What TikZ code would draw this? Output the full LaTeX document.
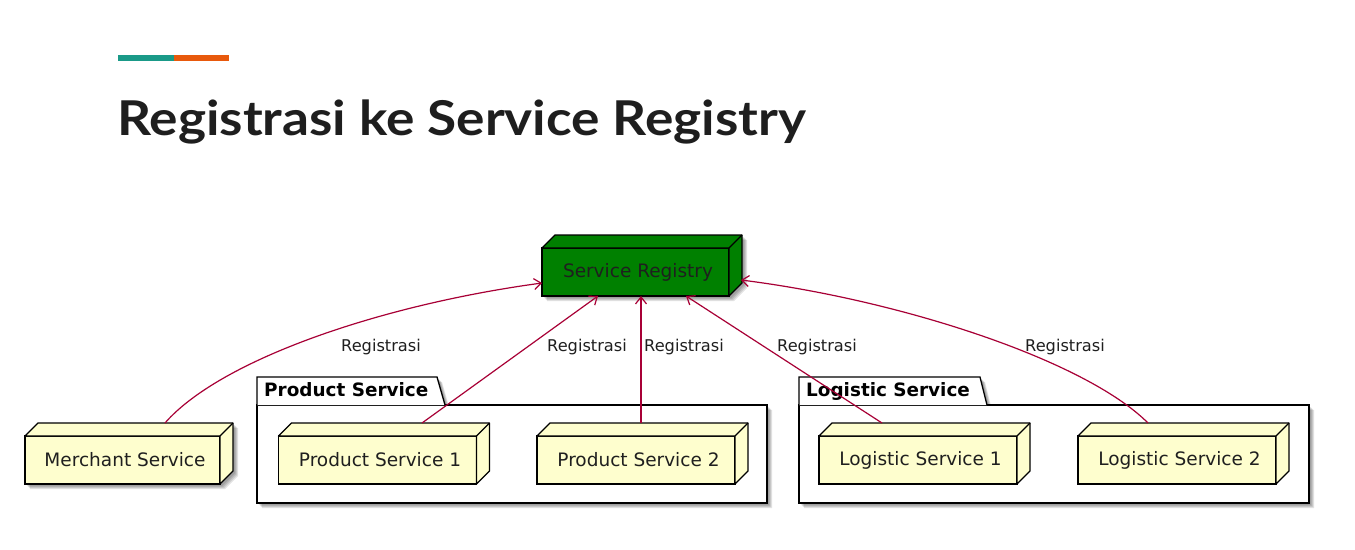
\documentclass[tikz,border=0pt]{standalone}
\usepackage{fontspec}
\setmainfont{DejaVu Sans}
\newfontfamily\titlefont{Lato}
\usetikzlibrary{arrows.meta,backgrounds,calc}
\definecolor{regfill}{HTML}{008000}
\definecolor{nodefill}{HTML}{FEFECE}
\definecolor{linkred}{HTML}{A80036}
\definecolor{barteal}{HTML}{1A9A88}
\definecolor{barorange}{HTML}{E8590C}
\definecolor{titleink}{HTML}{1E1E1E}

% extra top and right faces of a 3D node box
\newcommand\boxfaces[2]{%
  \draw[line width=1.3pt, fill=#2, line join=round]
    (#1.north west) -- ++(13,-13) -- ($(#1.north east)+(13,-13)$)
    -- ($(#1.south east)+(13,-13)$) -- (#1.south east) -- (#1.north east) -- cycle;
  \draw[line width=1.3pt] (#1.north east) -- ++(13,-13);
}
% soft drop shadow under a 3D node box
\newcommand\boxshadow[1]{%
  \foreach \o in {2,3,4,5}{%
    \fill[black, opacity=0.11]
      ($(#1.south west)+(\o,\o)$) -- ($(#1.north west)+(\o,\o)$)
      -- ($(#1.north west)+(13+\o,-13+\o)$) -- ($(#1.north east)+(13+\o,-13+\o)$)
      -- ($(#1.south east)+(13+\o,-13+\o)$) -- ($(#1.south east)+(\o,\o)$) -- cycle;
  }%
}

\begin{document}
\begin{tikzpicture}[x=1pt,y=-1pt,
  box/.style={draw=black, line width=1.3pt, fill=nodefill, minimum height=48pt,
    inner sep=0pt, outer sep=0pt, text=black!88,
    font=\fontsize{18.5}{20}\selectfont, execute at begin node=\hspace*{5pt}},
  link/.style={draw=linkred, line width=1.2pt,
    -{Straight Barb[length=7pt,width=11pt,line width=1.2pt]}},
  lbl/.style={font=\fontsize{16.2}{18}\selectfont, text=black!88, inner sep=0pt, anchor=base},
  pkg/.style={draw=black, line width=1.3pt, fill=white, line join=miter},
  pkgtitle/.style={font=\bfseries\fontsize{18.4}{20}\selectfont, inner sep=0pt, anchor=base west},
  pkgshadow/.style={black, opacity=0.11},
]
\useasboundingbox (0,0) rectangle (1355,549);
\begin{pgfonlayer}{background}
  \fill[white] (0,0) rectangle (1355,549);
\end{pgfonlayer}

% heading bar and title
\fill[barteal] (118,55) rectangle (174,61);
\fill[barorange] (174,55) rectangle (229,61);
\node[anchor=base west, inner sep=0pt, text=titleink,
  font=\titlefont\bfseries\fontsize{48}{50}\selectfont] (title) at (117,135)
  {\scalebox{1.108}[1]{Registrasi ke Service Registry}};

% package frames with shadows
\foreach \o in {2,3,4,5}{
  \fill[pkgshadow] (257+\o,377+\o) -- (437+\o,377+\o) -- (445+\o,405+\o)
     -- (767+\o,405+\o) -- (767+\o,503+\o) -- (257+\o,503+\o) -- cycle;
  \fill[pkgshadow] (799+\o,377+\o) -- (980+\o,377+\o) -- (987+\o,405+\o)
     -- (1309+\o,405+\o) -- (1309+\o,503+\o) -- (799+\o,503+\o) -- cycle;
}
\draw[pkg] (257,405) rectangle (767,503);
\draw[pkg] (257,405) -- (257,377) -- (437,377) -- (445,405);
\node[pkgtitle] (pkgprod) at (264,396) {Product Service};
\draw[pkg] (799,405) rectangle (1309,503);
\draw[pkg] (799,405) -- (799,377) -- (980,377) -- (987,405);
\node[pkgtitle] (pkglog) at (806,396) {Logistic Service};

% nodes
\node[box, fill=regfill, minimum width=187pt] (reg) at (635.5,272) {Service Registry};
\node[box, minimum width=195pt] (mer) at (122.5,460) {Merchant Service};
\node[box, minimum width=198pt] (ps1) at (377.5,460) {Product Service 1};
\node[box, minimum width=198pt] (ps2) at (636,460) {Product Service 2};
\node[box, minimum width=198pt] (ls1) at (918,460) {Logistic Service 1};
\node[box, minimum width=198pt] (ls2) at (1177,460) {Logistic Service 2};

\boxfaces{reg}{regfill}
\foreach \n in {mer,ps1,ps2,ls1,ls2}{\boxfaces{\n}{nodefill}}

\begin{pgfonlayer}{background}
  \foreach \n in {reg,mer,ps1,ps2,ls1,ls2}{\boxshadow{\n}}
\end{pgfonlayer}

% registration links
\draw[link] ($(mer.north)+(42.5,-13)$) .. controls (220,360) and (380,305) .. ($(reg.west)+(0,11)$);
\draw[link] ($(ps1.north)+(44.5,-13)$) -- ($(reg.south)+(-37.5,0)$);
\draw[link] ($(ps2.north)+(5,-13)$) -- ($(reg.south)+(5.5,0)$);
\draw[link] ($(ls1.north)+(-36,-13)$) -- ($(reg.south)+(50.5,0)$);
\draw[link] ($(ls2.north)+(-29,-13)$) .. controls (1085,360) and (900,300) .. ($(reg.east)+(12,8)$);

\node[lbl] (l1) at (381,351) {Registrasi};
\node[lbl] (l2) at (587,351) {Registrasi};
\node[lbl] (l3) at (684,351) {Registrasi};
\node[lbl] (l4) at (817,351) {Registrasi};
\node[lbl] (l5) at (1065,351) {Registrasi};
\end{tikzpicture}
\end{document}
